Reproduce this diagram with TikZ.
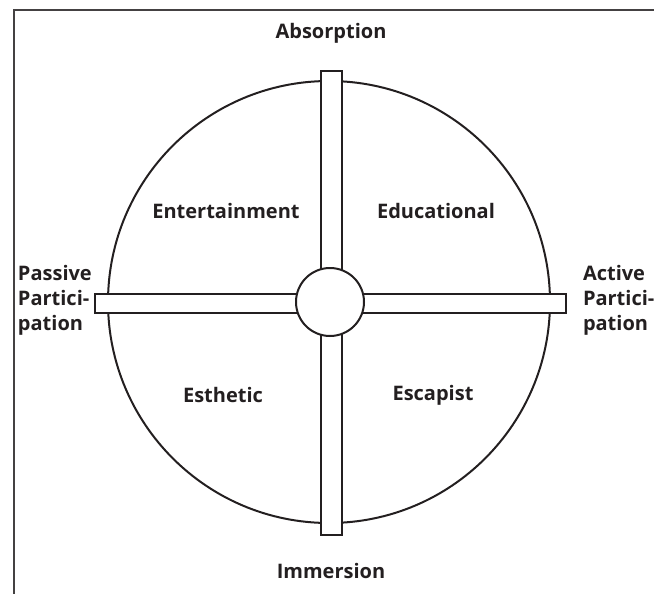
\documentclass[tikz,border=0pt]{standalone}
\usepackage{fontspec}
\setmainfont{Open Sans}
\usetikzlibrary{positioning}
\definecolor{ink}{HTML}{231F20}
\begin{document}
\begin{tikzpicture}[x=0.5pt,y=-0.5pt,line width=1pt,
	lbl/.style={font=\bfseries\fontsize{10}{12.5}\selectfont,text=ink,inner sep=0pt},
	side/.style={lbl,align=left,anchor=west},
	bar/.style={draw=ink,fill=white}]
\useasboundingbox (0,0) rectangle (654,594);
% frame
\draw[ink!85,line width=1.2pt] (14,594) -- (14,10) -- (654,10);
% wheel
\draw[ink] (329,302) circle (221);
\draw[bar] (95,294) rectangle (566,313);
\draw[bar] (321,71) rectangle (342,535);
\node[circle,draw=ink,fill=white,minimum size=34pt,inner sep=0pt] (hub) at (330,302) {};
% axes
\node[lbl] (absorption) at (331,33) {Absorption};
\node[lbl] (immersion) at (331,571) {Immersion};
\node[side] (passive) at (17,300) {Passive\\Partici-\\pation};
\node[side] (active) at (582,300) {Active\\Partici-\\pation};
% realms
\node[lbl] (entertain) at (226,211) {Entertainment};
\node[lbl] (educ) at (436,211) {Educational};
\node[lbl] (esthetic) at (223,395) {Esthetic};
\node[lbl] (escapist) at (433,395) {Escapist};
\end{tikzpicture}
\end{document}
